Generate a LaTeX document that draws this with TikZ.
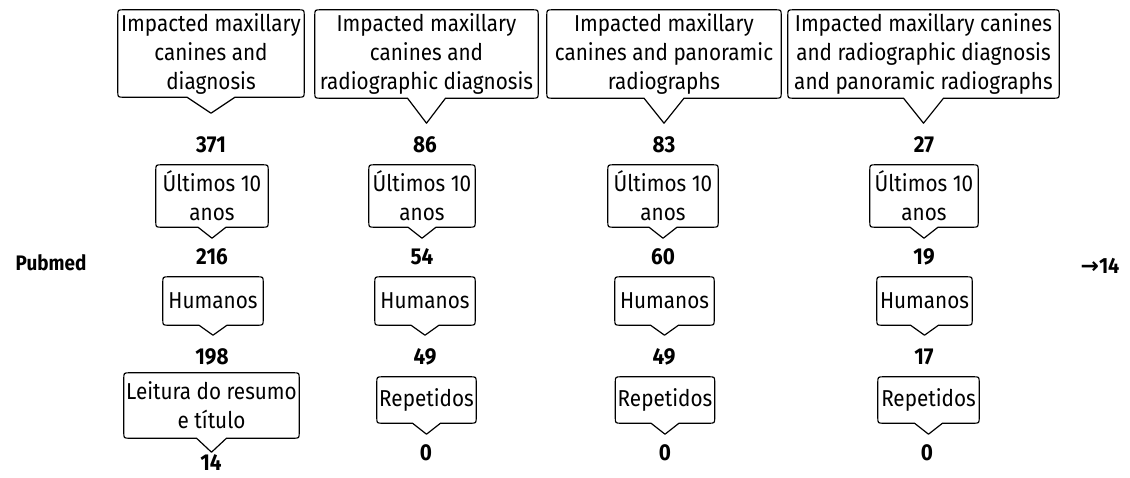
\documentclass[tikz,border=0pt]{standalone}
\usepackage{fontspec}
\setmainfont{Fira Sans}[FakeStretch=0.9]
\newfontfamily\symfont{DejaVu Sans}
\usetikzlibrary{calc}
\tikzset{
 bubtext/.style={inner sep=0pt, align=center, font=\fontsize{23}{29}\selectfont},
 numtext/.style={font=\fontsize{23}{27}\selectfont\bfseries, inner sep=0pt},
 bubline/.style={draw=black, line width=1.2pt, line join=round},
}
\newcommand\bub[3]{%
\draw[bubline]
 ($(#1.south)+(-#2,0)$) -- ($(#1.south west)+(6,0)$)
 .. controls (#1.south west) .. ($(#1.south west)+(0,-6)$)
 -- ($(#1.north west)+(0,6)$)
 .. controls (#1.north west) .. ($(#1.north west)+(6,0)$)
 -- ($(#1.north east)+(-6,0)$)
 .. controls (#1.north east) .. ($(#1.north east)+(0,6)$)
 -- ($(#1.south east)+(0,-6)$)
 .. controls (#1.south east) .. ($(#1.south east)+(-6,0)$)
 -- ($(#1.south)+(#2,0)$) -- ($(#1.south)+(0,#3)$) -- cycle;}
\begin{document}
\begin{tikzpicture}[x=1pt,y=-1pt]
\useasboundingbox[fill=white] (0,0) rectangle (1130,477);
% row 1
\node[bubtext, minimum width=186, minimum height=87] (a1) at (211,53.5) {Impacted maxillary\\canines and\\diagnosis};
\node[bubtext, minimum width=223, minimum height=88] (a2) at (426.5,54) {Impacted maxillary\\canines and\\radiographic diagnosis};
\node[bubtext, minimum width=234, minimum height=88] (a3) at (664,54) {Impacted maxillary\\canines and panoramic\\radiographs};
\node[bubtext, minimum width=271, minimum height=88] (a4) at (923.5,54) {Impacted maxillary canines\\and radiographic diagnosis\\and panoramic radiographs};
\bub{a1}{24}{16}
\bub{a2}{19}{25}
\bub{a3}{20}{25}
\bub{a4}{20}{25}
\node[numtext] (n1a) at (211,145) {371};
\node[numtext] (n2a) at (425,145) {86};
\node[numtext] (n3a) at (664,145) {83};
\node[numtext] (n4a) at (924,145) {27};
% row 2
\node[bubtext, minimum width=112, minimum height=62] (b1) at (212,196) {Últimos 10\\anos};
\node[bubtext, minimum width=106, minimum height=62] (b2) at (422,196) {Últimos 10\\anos};
\node[bubtext, minimum width=110, minimum height=62] (b3) at (663,196) {Últimos 10\\anos};
\node[bubtext, minimum width=108, minimum height=62] (b4) at (924,196) {Últimos 10\\anos};
\bub{b1}{14}{11}
\bub{b2}{14}{11}
\bub{b3}{14}{11}
\bub{b4}{14}{11}
\node[numtext] (n1b) at (212,257) {216};
\node[numtext] (n2b) at (422,257) {54};
\node[numtext] (n3b) at (663,257) {60};
\node[numtext] (n4b) at (924,257) {19};
% row 3
\node[bubtext, minimum width=100, minimum height=48] (c1) at (213,301) {Humanos};
\node[bubtext, minimum width=100, minimum height=48] (c2) at (425,301) {Humanos};
\node[bubtext, minimum width=99, minimum height=48] (c3) at (664.5,301) {Humanos};
\node[bubtext, minimum width=95, minimum height=48] (c4) at (924.5,301) {Humanos};
\bub{c1}{14}{10}
\bub{c2}{14}{10}
\bub{c3}{14}{10}
\bub{c4}{14}{10}
\node[numtext] (n1c) at (212,357) {198};
\node[numtext] (n2c) at (425,357) {49};
\node[numtext] (n3c) at (664,357) {49};
\node[numtext] (n4c) at (924,357) {17};
% row 4
\node[bubtext, minimum width=175, minimum height=65] (d1) at (211.5,405.5) {Leitura do resumo\\e título};
\node[bubtext, minimum width=99, minimum height=46] (d2) at (426.5,400) {Repetidos};
\node[bubtext, minimum width=99, minimum height=46] (d3) at (665,400) {Repetidos};
\node[bubtext, minimum width=101, minimum height=46] (d4) at (928.5,400) {Repetidos};
\bub{d1}{15}{14}
\bub{d2}{14}{11}
\bub{d3}{14}{11}
\bub{d4}{14}{11}
\node[numtext] (n1d) at (211,463) {14};
\node[numtext] (n2d) at (426,453) {0};
\node[numtext] (n3d) at (665,453) {0};
\node[numtext] (n4d) at (927,453) {0};
% side labels
\node[font=\fontsize{21}{24}\selectfont\bfseries, inner sep=0pt] (pub) at (51,263) {Pubmed};
\node[font=\fontsize{22}{26}\selectfont\bfseries, inner sep=0pt] (res) at (1100,266) {{\symfont\bfseries →}14};
\end{tikzpicture}
\end{document}
